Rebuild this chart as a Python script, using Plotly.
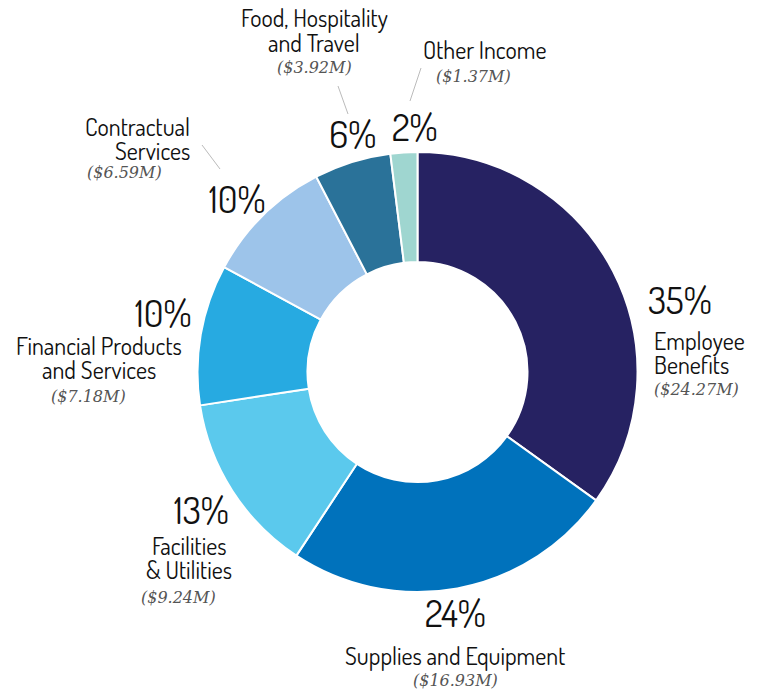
import plotly.graph_objects as go

categories = ["Employee Benefits", "Supplies and Equipment", "Facilities & Utilities",
              "Financial Products and Services", "Contractual Services",
              "Food, Hospitality and Travel", "Other Income"]
display_names = [["Employee", "Benefits"], ["Supplies and Equipment"], ["Facilities", "& Utilities"],
                 ["Financial Products", "and Services"], ["Contractual", "Services"],
                 ["Food, Hospitality", "and Travel"], ["Other Income"]]
values_m = [24.27, 16.93, 9.24, 7.18, 6.59, 3.92, 1.37]
pct_labels = ["35%", "24%", "13%", "10%", "10%", "6%", "2%"]
colors = ["#262262", "#0072BC", "#5BC9ED", "#27AAE1", "#9DC4EA", "#2A7299", "#9FD6D0"]

W, H = 759, 690
OFF = 8  # page body margin
cx, cy, R = 417.5 - OFF, 372 - OFF, 220

# layout positions (page pixels): pct (x,y,anchor), name (x,y first line,anchor), value (x,y,anchor)
pos = [
    ((680, 299, "center"), (652, 340, "left"), (652, 390, "left")),
    ((455, 612, "center"), (455, 655, "center"), (455, 680, "center")),
    ((201, 510, "center"), (189, 545, "center"), (178, 597, "center")),
    ((163, 312, "center"), (99, 345, "center"), (88, 396, "center")),
    ((237, 198, "center"), (192, 126, "right"), (85, 173, "left")),
    ((352, 133, "center"), (314, 18, "center"), (314, 68, "center")),
    ((415, 126, "center"), (485, 50, "center"), (473, 77, "center")),
]
LINE = 24.5
leaders = [((202, 145), (220, 169)), ((338, 86), (348, 114)), ((421, 68), (410, 101))]


def px(x):
    return (x - OFF) / W


def py(y):
    return 1 - (y - OFF) / H


fig = go.Figure(go.Pie(
    labels=categories, values=values_m, hole=0.5, sort=False, direction="clockwise",
    rotation=0, marker=dict(colors=colors, line=dict(color="white", width=2)),
    textinfo="none", hoverinfo="label+value", showlegend=False,
    domain=dict(x=[(cx - R) / W, (cx + R) / W], y=[(H - cy - R) / H, (H - cy + R) / H]),
))

lab_font = "Dosis, 'DejaVu Sans Condensed', 'Liberation Sans Narrow', sans-serif"
val_font = "'DejaVu Serif', 'Liberation Serif', serif"
ann = []
for i in range(len(categories)):
    (pxx, pyy, pa), (nx, ny, na), (vx, vy, va) = pos[i]
    ann.append(dict(x=px(pxx), y=py(pyy), text=pct_labels[i], xanchor=pa, yanchor="middle",
                    font=dict(family=lab_font, size=37, color="#111111")))
    for k, line in enumerate(display_names[i]):
        ann.append(dict(x=px(nx), y=py(ny + k * LINE), text=line, xanchor=na, yanchor="middle",
                        font=dict(family=lab_font, size=24, color="#111111")))
    ann.append(dict(x=px(vx), y=py(vy), text="<i>($%.2fM)</i>" % values_m[i], xanchor=va,
                    yanchor="middle", font=dict(family=val_font, size=16, color="#555555")))
for a in ann:
    a.update(xref="paper", yref="paper", showarrow=False)

shapes = [dict(type="line", xref="paper", yref="paper", x0=px(a[0]), y0=py(a[1]),
               x1=px(b[0]), y1=py(b[1]), line=dict(color="#bbbbbb", width=1))
          for a, b in leaders]

fig.update_layout(width=W, height=H, margin=dict(l=0, r=0, t=0, b=0),
                  paper_bgcolor="white", plot_bgcolor="white",
                  annotations=ann, shapes=shapes)
fig.write_html("out.html")
